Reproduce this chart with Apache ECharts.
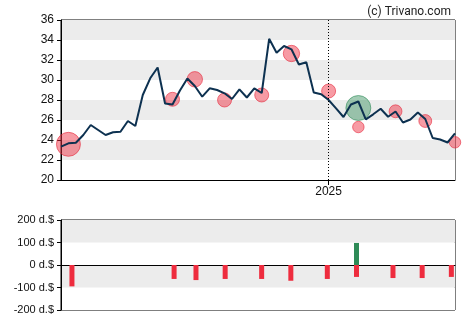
<!DOCTYPE html>
<html>
<head>
<meta charset="utf-8">
<script src="https://cdn.jsdelivr.net/npm/echarts@6/dist/echarts.min.js"></script>
<style>
  html, body { margin: 0; padding: 0; background: #fff; }
  #chart { width: 470px; height: 325px; }
</style>
</head>
<body>
<div id="chart"></div>
<script>
// Weekly closing dates
const dates = [
  '2024-04-26','2024-05-03','2024-05-10','2024-05-17','2024-05-24','2024-05-31',
  '2024-06-07','2024-06-14','2024-06-21','2024-06-28','2024-07-05','2024-07-12',
  '2024-07-19','2024-07-26','2024-08-02','2024-08-09','2024-08-16','2024-08-23',
  '2024-08-30','2024-09-06','2024-09-13','2024-09-20','2024-09-27','2024-10-04',
  '2024-10-11','2024-10-18','2024-10-25','2024-11-01','2024-11-08','2024-11-15',
  '2024-11-22','2024-11-29','2024-12-06','2024-12-13','2024-12-20','2024-12-27',
  '2025-01-03','2025-01-10','2025-01-17','2025-01-24','2025-01-31','2025-02-07',
  '2025-02-14','2025-02-21','2025-02-28','2025-03-07','2025-03-14','2025-03-21',
  '2025-03-28','2025-04-04','2025-04-11','2025-04-18','2025-04-25','2025-05-02'
];

// Weekly close price
const closePrice = [
  23.33, 23.67, 23.73, 24.5, 25.5, 25.0, 24.5, 24.77, 24.83, 25.9,
  25.4, 28.5, 30.17, 31.25, 27.65, 27.55, 28.95, 30.15, 29.4, 28.33,
  29.17, 29.0, 28.67, 28.1, 29.07, 28.25, 29.17, 28.7, 34.12, 32.73,
  33.4, 33.07, 31.55, 31.77, 28.75, 28.58, 28.0, 27.17, 26.3, 27.55,
  27.85, 26.07, 26.57, 27.12, 26.33, 26.85, 25.75, 26.05, 26.75, 26.1,
  24.2, 24.05, 23.75, 24.67
];

// Insider sales: week index, trade price, amount
const sellWeek   = [1, 15, 18, 22, 27, 31, 36, 40, 45, 49, 53];
const sellPrice  = [23.57, 28.07, 30.07, 28.0, 28.5, 32.65, 28.9, 25.3, 26.87, 25.9, 23.77];
const sellAmount = [-95, -62, -67, -62, -62, -70, -62, -53, -58, -58, -53];

// Insider purchases: week index, trade price, amount
const buyWeek   = [40];
const buyPrice  = [27.2];
const buyAmount = [98];

const priceTicks  = { min: 20, max: 36, step: 2 };
const amountTicks = { min: -200, max: 200, step: 100 };

const FONT = 'Liberation Sans, Arial, sans-serif';

function bubbleSize(amount) {
  return 14 * Math.pow(Math.abs(amount) / 62, 1.26);
}

const sellPoints = sellWeek.map((w, i) => [w, sellPrice[i], sellAmount[i]]);
const buyPoints  = buyWeek.map((w, i) => [w, buyPrice[i], buyAmount[i]]);
const sellBars   = sellWeek.map((w, i) => [w, sellAmount[i]]);
const buyBars    = buyWeek.map((w, i) => [w, buyAmount[i]]);

function isYearStart(index) {
  return index > 0 && dates[index].slice(0, 4) !== dates[index - 1].slice(0, 4);
}

const chart = echarts.init(document.getElementById('chart'), null, { renderer: 'canvas' });

chart.setOption({
  animation: false,
  backgroundColor: '#fff',
  title: {
    text: '(c) Trivano.com',
    right: 14,
    top: 1,
    textStyle: { fontFamily: 'Roboto, sans-serif', fontSize: 12, fontWeight: 'normal', color: '#222' }
  },
  grid: [
    { left: 61, right: 15, top: 20, height: 160, show: true, borderColor: '#000', borderWidth: 1, backgroundColor: 'transparent' },
    { left: 61, right: 15, top: 220, height: 90, show: true, borderColor: '#000', borderWidth: 1, backgroundColor: 'transparent' }
  ],
  xAxis: [
    {
      type: 'category', gridIndex: 0, data: dates, boundaryGap: false,
      axisLine: { lineStyle: { color: '#000', width: 1 } },
      axisTick: { show: true, length: 5, interval: (i) => isYearStart(i), lineStyle: { color: '#000' } },
      axisLabel: {
        interval: (i) => isYearStart(i),
        formatter: (v) => v.slice(0, 4),
        fontFamily: FONT, fontSize: 12, color: '#111', margin: 6
      },
      splitLine: { show: false }
    },
    {
      type: 'category', gridIndex: 1, data: dates, boundaryGap: true,
      axisLine: { onZero: true, lineStyle: { color: '#000', width: 1 } },
      axisTick: { show: false },
      axisLabel: { show: false },
      splitLine: { show: false }
    }
  ],
  yAxis: [
    {
      type: 'value', gridIndex: 0,
      min: priceTicks.min, max: priceTicks.max, interval: priceTicks.step,
      axisLine: { show: true, lineStyle: { color: '#000', width: 1 } },
      axisTick: { show: true, length: 4, lineStyle: { color: '#000' } },
      axisLabel: { fontFamily: FONT, fontSize: 12, color: '#111', margin: 7 },
      splitLine: { show: false },
      splitArea: { show: true, areaStyle: { color: ['#ffffff', '#ececec'] } }
    },
    {
      type: 'value', gridIndex: 1,
      min: amountTicks.min, max: amountTicks.max, interval: amountTicks.step,
      axisLine: { show: true, lineStyle: { color: '#000', width: 1 } },
      axisTick: { show: true, length: 4, lineStyle: { color: '#000' } },
      axisLabel: { fontFamily: FONT, fontSize: 11, color: '#111', margin: 7, formatter: (v) => v + ' d.$' },
      splitLine: { show: false },
      splitArea: { show: true, areaStyle: { color: ['#ffffff', '#ececec'] } }
    }
  ],
  series: [
    {
      name: 'Sales', type: 'scatter', xAxisIndex: 0, yAxisIndex: 0, z: 3,
      data: sellPoints,
      symbolSize: (v) => bubbleSize(v[2]),
      itemStyle: { color: 'rgba(238,45,65,0.6)', borderColor: 'rgba(230,40,60,0.75)', borderWidth: 1 }
    },
    {
      name: 'Purchases', type: 'scatter', xAxisIndex: 0, yAxisIndex: 0, z: 3,
      data: buyPoints,
      symbolSize: (v) => bubbleSize(v[2]),
      itemStyle: { color: 'rgba(46,139,87,0.55)', borderColor: 'rgba(46,139,87,0.75)', borderWidth: 1 }
    },
    {
      name: 'Close', type: 'line', xAxisIndex: 0, yAxisIndex: 0, z: 4,
      data: closePrice,
      showSymbol: false,
      lineStyle: { color: '#0d3150', width: 2 },
      markLine: {
        silent: true, symbol: ['none', 'none'], label: { show: false },
        lineStyle: { color: '#000', type: [1, 2], width: 1 },
        data: [{ xAxis: dates.findIndex((d, i) => isYearStart(i)) }]
      }
    },
    {
      name: 'Sold', type: 'bar', xAxisIndex: 1, yAxisIndex: 1,
      data: sellBars, barWidth: 5, barGap: '-100%',
      itemStyle: { color: '#ee2c3e' }
    },
    {
      name: 'Bought', type: 'bar', xAxisIndex: 1, yAxisIndex: 1,
      data: buyBars, barWidth: 5, barGap: '-100%',
      itemStyle: { color: '#2e8b57' }
    }
  ]
});
</script>
</body>
</html>
